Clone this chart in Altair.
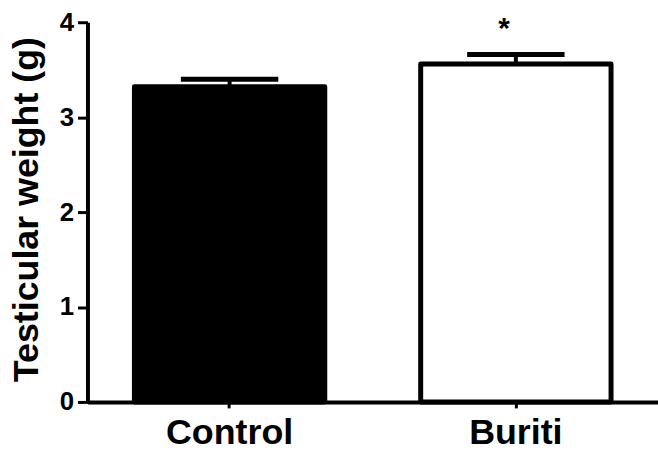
import altair as alt
import pandas as pd

# Testicular weight per group (mean and SEM, grams)
groups = ["Control", "Buriti"]
means = [3.32, 3.56]
sems = [0.08, 0.10]
marks = ["", "*"]

df = pd.DataFrame({"group": groups, "mean": means, "sem": sems, "mark": marks})
df["upper"] = df["mean"] + df["sem"]

FONT = "Liberation Sans"

x_enc = alt.X(
    "group:N",
    sort=groups,
    scale=alt.Scale(paddingInner=0.335, paddingOuter=0.164),
    axis=alt.Axis(
        title=None,
        labelFont=FONT,
        labelFontSize=36,
        labelFontWeight="bold",
        labelColor="black",
        labelAngle=0,
        labelBaseline="alphabetic",
        labelPadding=36,
        tickSize=6,
        tickWidth=3,
        tickColor="black",
        domainColor="black",
        domainWidth=4,
    ),
)

y_scale = alt.Scale(domain=[0, 4], nice=False)

base = alt.Chart(df)

bars = base.mark_bar(stroke="black", strokeWidth=5, strokeJoin="round").encode(
    x=x_enc,
    y=alt.Y(
        "mean:Q",
        scale=y_scale,
        axis=alt.Axis(
            title="Testicular weight (g)",
            values=[0, 1, 2, 3, 4],
            format="d",
            grid=False,
            labelFont=FONT,
            labelFontSize=26,
            labelFontWeight="bold",
            labelColor="black",
            labelPadding=4,
            tickSize=10,
            tickWidth=3,
            tickColor="black",
            domainColor="black",
            domainWidth=4,
            titleFont=FONT,
            titleFontSize=36,
            titleFontWeight="bold",
            titleColor="black",
            titleAngle=-90,
            titleAlign="center",
            titleBaseline="alphabetic",
            titleX=-50,
            titleY=188,
        ),
    ),
    fill=alt.Fill("group:N", scale=alt.Scale(domain=groups, range=["black", "white"]), legend=None),
)

stems = base.mark_rule(color="black", strokeWidth=4).encode(
    x=alt.X("group:N", sort=groups),
    y=alt.Y("mean:Q", scale=y_scale),
    y2="upper:Q",
)

caps = base.mark_tick(color="black", size=98, thickness=5, opacity=1).encode(
    x=alt.X("group:N", sort=groups),
    y=alt.Y("upper:Q", scale=y_scale),
)

stars = base.transform_filter(alt.datum.mark != "").transform_calculate(
    star_y="datum.upper + 0.17"
).mark_text(
    font=FONT, fontSize=30, fontWeight="bold", color="black", dx=-12, baseline="alphabetic"
).encode(
    x=alt.X("group:N", sort=groups),
    y=alt.Y("star_y:Q", scale=y_scale),
    text="mark:N",
)

chart = (
    alt.layer(bars, stems, caps, stars)
    .properties(
        width=574,
        height=382,
        background="white",
        autosize=alt.AutoSizeParams(type="none"),
        padding={"left": 88, "top": 21, "right": 0, "bottom": 49},
    )
    .configure_view(strokeWidth=0)
)

chart.save("out.html", embed_options={"renderer": "svg", "actions": False})
